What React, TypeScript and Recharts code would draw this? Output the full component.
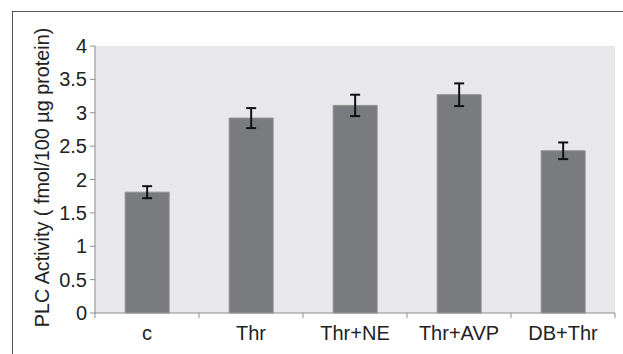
import React from "react"
import { BarChart, Bar, XAxis, YAxis, CartesianGrid, ErrorBar, Label } from "recharts"

const categories = ["c", "Thr", "Thr+NE", "Thr+AVP", "DB+Thr"]
const activity = [1.81, 2.92, 3.11, 3.27, 2.43]
const activityErr = [0.09, 0.15, 0.16, 0.17, 0.125]
const yTicks = [0, 0.5, 1, 1.5, 2, 2.5, 3, 3.5, 4]

const W = 623
const H = 354
const MARGIN = { top: 46, right: 8, bottom: 0, left: 0 }
const Y_W = 95
const X_H = 41
const BAND = (W - MARGIN.left - MARGIN.right - Y_W) / categories.length

const FONT = "'Liberation Sans', Arial, sans-serif"
const AXIS = "#8e8e8e"

const data = categories.map((name, i) => ({ name, value: activity[i], err: activityErr[i] }))

// category labels + tick marks at the band boundaries (Excel style)
function XTick(props: any) {
  const { x, y, payload, index } = props
  const left = x - BAND / 2
  return (
    <g>
      <line x1={left} x2={left} y1={y - 8} y2={y - 3} stroke={AXIS} />
      {index === categories.length - 1 && (
        <line x1={x + BAND / 2} x2={x + BAND / 2} y1={y - 8} y2={y - 3} stroke={AXIS} />
      )}
      <text x={x} y={y + 19} textAnchor="middle" fontSize={20} fill="#222" fontFamily={FONT}>
        {payload.value}
      </text>
    </g>
  )
}

function YLabel(props: any) {
  const vb = props.viewBox || {}
  const cy = (vb.y || 0) + (vb.height || 0) / 2 - 2
  return (
    <text
      x={42} y={cy} transform={`rotate(-90, 42, ${cy})`}
      textAnchor="middle" dominantBaseline="central"
      fontSize={19.8} fill="#222" fontFamily={FONT}
    >
      PLC Activity ( fmol/100 µg protein)
    </text>
  )
}

export default function App() {
  return (
    <div style={{ position: "absolute", left: 0, top: 0, width: W, height: H, background: "#fff", overflow: "hidden" }}>
      {/* figure frame */}
      <div style={{
        position: "absolute", left: 12, top: 11, width: W, height: H,
        borderLeft: "1px solid #555", borderTop: "1px solid #555",
      }} />
      <div style={{ position: "absolute", left: 0, top: 0 }}>
        <BarChart width={W} height={H} data={data} margin={MARGIN} barCategoryGap="29%">
          <CartesianGrid fill="#e8e8ea" stroke="none" horizontal={false} vertical={false} />
          <XAxis
            dataKey="name" height={X_H} stroke={AXIS}
            tickLine={false} tick={<XTick />} interval={0}
          />
          <YAxis
            width={Y_W} domain={[0, 4]} ticks={yTicks} stroke={AXIS}
            tickSize={5} tickMargin={3}
            tick={{ fontSize: 20, fill: "#222", fontFamily: FONT }}
          >
            <Label content={<YLabel />} />
          </YAxis>
          <Bar dataKey="value" fill="#7a7b7f" stroke="#8f9093" strokeWidth={1} isAnimationActive={false}>
            <ErrorBar dataKey="err" width={5} stroke="#111" strokeWidth={2} />
          </Bar>
        </BarChart>
      </div>
    </div>
  )
}
